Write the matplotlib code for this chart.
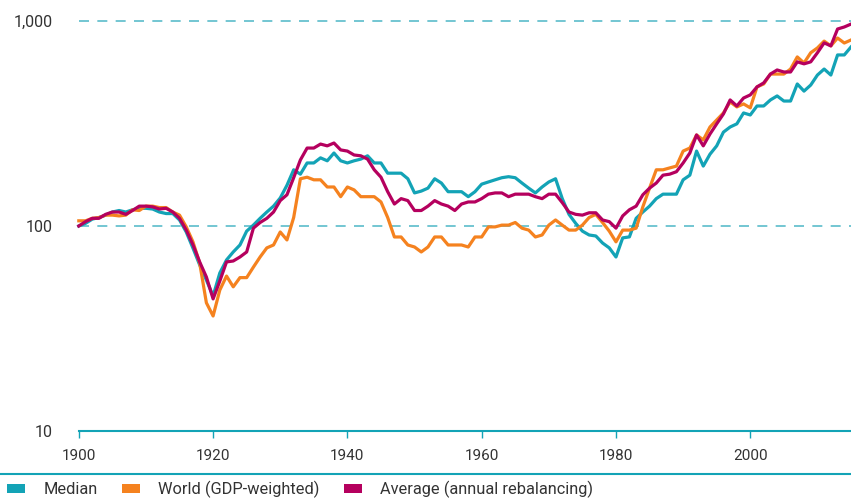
import matplotlib
matplotlib.use("Agg")
import matplotlib.pyplot as plt
from matplotlib.patches import Patch
from matplotlib.lines import Line2D

plt.rcParams['font.family'] = ['Roboto', 'DejaVu Sans']

years = list(range(1900, 2016))

median = [100, 103, 108, 110, 113, 117, 119, 117, 120, 122,
          122, 121, 117, 115, 115, 107, 93.5, 78, 64.6, 54.5,
          45.6, 59, 68.3, 74.7, 80.8, 94.4, 101, 109, 117, 125,
          137, 158, 188, 179, 203, 203, 215, 208, 227, 208,
          203, 208, 212, 220, 203, 203, 181, 181, 181, 170,
          145, 148, 153, 170, 162, 147, 147, 147, 139, 147,
          160, 164, 168, 172, 174, 172, 162, 153, 145, 155,
          164, 170, 136, 114, 103, 94.4, 90.4, 89.4, 82.6, 78.2,
          70.6, 87.5, 88.5, 109, 117, 125, 136, 143, 143, 143,
          168, 177, 232, 196, 224, 246, 287, 304, 315, 356,
          348, 385, 385, 412, 431, 407, 407, 493, 455, 487,
          545, 583, 545, 683, 683, 747]

world = [106, 106, 109, 110, 113, 113, 112, 113, 120, 119,
         125, 125, 123, 123, 117, 113, 99, 83.7, 66, 42.2,
         36.4, 48.7, 57, 50.5, 56, 56, 63, 70.6, 78.2, 80.8,
         93.5, 85.5, 110, 170, 173, 168, 168, 155, 155, 139,
         155, 150, 139, 139, 139, 131, 110, 88.4, 88.4, 80.8,
         79, 74.7, 79, 88.4, 88.4, 80.8, 80.8, 80.8, 79, 88.4,
         88.4, 99, 99, 101, 101, 104, 97.6, 95.5, 88.4, 90.4,
         101, 107, 101, 95.5, 95.5, 101, 110, 114, 104, 94.4,
         83.7, 95.5, 95.5, 97.6, 124, 153, 188, 188, 192, 196,
         232, 240, 278, 263, 304, 329, 356, 403, 381, 394,
         377, 477, 493, 551, 551, 551, 583, 668, 624, 700,
         739, 798, 756, 826, 781, 808]

average = [100, 105, 109, 109, 114, 117, 117, 114, 119, 125,
           125, 124, 121, 122, 117, 109, 95.5, 81, 66.8, 56.4,
           44.1, 53.9, 66.8, 67.5, 70.6, 74.7, 97.6, 104, 109, 117,
           133, 142, 172, 210, 240, 240, 251, 246, 254, 235,
           232, 222, 220, 212, 188, 173, 147, 128, 136, 133,
           119, 119, 125, 133, 128, 125, 119, 128, 131, 131,
           136, 143, 145, 145, 139, 143, 143, 143, 139, 136,
           143, 143, 130, 117, 114, 113, 116, 116, 107, 105,
           97.6, 112, 120, 125, 142, 153, 162, 177, 179, 184,
           203, 227, 278, 246, 281, 315, 352, 412, 385, 421,
           436, 477, 499, 551, 577, 564, 564, 632, 618, 632,
           700, 782, 756, 914, 935, 966]

labels = ['Median', 'World (GDP-weighted)', 'Average (annual rebalancing)']
colors = ['#13a3b6', '#f5821f', '#b5005e']
x_ticks = [1900, 1920, 1940, 1960, 1980, 2000]
y_ticks = [10, 100, 1000]
y_labels = ['10', '100', '1,000']

fig = plt.figure(figsize=(8.51, 5.0), dpi=100)
ax = fig.add_axes([0.0926, 0.138, 0.9074, 0.82])

for yv in [100, 1000]:
    ax.axhline(yv, color='#5bbccb', lw=1.2, dashes=(6, 5), zorder=1, clip_on=False)

for series, c in zip([median, world, average], colors):
    ax.plot(years, series, color=c, lw=2.3, zorder=3, clip_on=False)

ax.set_yscale('log')
ax.set_ylim(10, 1000)
ax.set_xlim(1900, 2015)
ax.set_yticks(y_ticks)
ax.set_yticklabels(y_labels)
ax.yaxis.set_minor_locator(matplotlib.ticker.NullLocator())
ax.set_xticks(x_ticks)

for s in ['top', 'right', 'left']:
    ax.spines[s].set_visible(False)
ax.spines['bottom'].set_color('#13a3b6')
ax.spines['bottom'].set_linewidth(1.5)
ax.tick_params(axis='x', colors='#13a3b6', length=5, width=1, pad=8,
               labelcolor='#333333', labelsize=11)
ax.tick_params(axis='y', length=0, pad=19, labelcolor='#333333', labelsize=11.5)

fig.add_artist(Line2D([0, 1], [0.052, 0.052], transform=fig.transFigure,
                      color='#13a3b6', lw=1.5))

handles = [Patch(facecolor=c, edgecolor='none') for c in colors]
fig.legend(handles, labels, loc='lower left', bbox_to_anchor=(-0.009, -0.026),
           ncol=3, frameon=False, fontsize=11.8, handlelength=1.1,
           handleheight=0.5, handletextpad=1.1, columnspacing=1.5,
           labelcolor='#333333')

fig.savefig('out.png', dpi=100)
